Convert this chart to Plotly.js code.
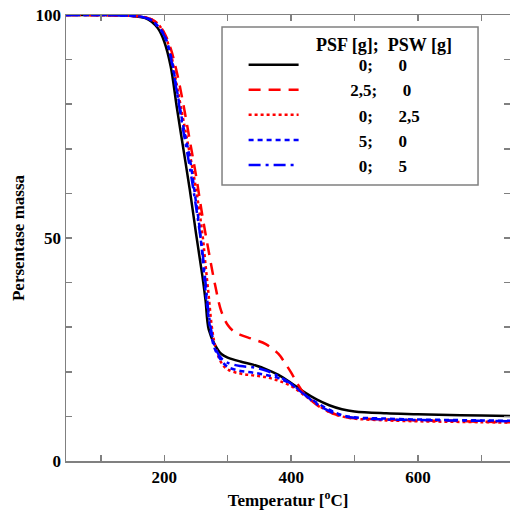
<!DOCTYPE html>
<html><head><meta charset="utf-8">
<script src="https://cdn.plot.ly/plotly-3.0.1.min.js"></script>
<style>html,body{margin:0;padding:0;background:#fff}#chart{width:510px;height:515px}</style>
</head><body><div id="chart"></div>
<script>
// Temperature (°C) and mass percentage for each sample
const T_black = [45,100,150,170,180,190,200,210,220,230,240,250,260,265,270,280,290,300,320,340,360,380,400,420,440,460,480,500,550,600,650,700,745];
const M_black = [100,100,99.8,99.3,98.5,97,94,88.5,79,70,61,51,41.5,36,29.5,26,24,23.2,22.3,21.6,20.6,19.3,17.5,15.5,13.8,12.5,11.6,11.1,10.7,10.5,10.3,10.2,10.1];

const T_red1 = [45,150,170,180,190,200,210,220,230,240,250,260,270,280,290,300,310,320,340,360,380,390,400,410,420,440,460,480,500,550,600,650,700,745];
const M_red1 = [100,99.8,99.5,99,98,96,92.5,87,80,72,64,55,47,39.5,33.5,30.5,29,28.3,27.3,26.2,24,22,19.8,17.3,15.2,12.6,11,10,9.6,9.3,9.1,9,8.8,8.7];

const T_red2 = [45,150,170,180,190,200,210,220,230,240,250,260,265,270,275,280,290,300,320,340,360,380,400,420,440,460,480,500,550,600,650,700,745];
const M_red2 = [100,99.8,99.5,99,98,95.8,91.5,84,76.5,69,61,51,44,37,30,26,22,20.5,19.6,19.2,18.8,18,16.8,14.8,12.8,11,10,9.5,9.1,8.9,8.8,8.7,8.6];

const T_blue1 = [45,150,170,180,190,200,210,220,230,240,250,255,260,265,270,275,280,290,300,320,340,360,380,400,420,440,460,480,500,550,600,650,700,745];
const M_blue1 = [100,99.8,99.4,98.8,97.5,95.5,91,83,75,68,58,53,46,38,32,27.5,25,22.5,21.1,20.2,19.8,19.3,18.6,17.2,15,13.1,11.5,10.3,9.8,9.5,9.3,9.2,9.1,9];

const T_blue2 = [45,150,170,180,190,200,210,220,230,240,250,260,265,270,275,280,290,300,320,340,360,380,400,420,440,460,480,500,550,600,650,700,745];
const M_blue2 = [100,99.8,99.4,98.8,97.4,95.3,90.5,82.5,74,66,57,47,40,33,28.5,25.5,23,22,21.3,21,20.3,19,17.3,15,12.8,11.2,10.2,9.7,9.3,9.2,9.1,9,8.9];

const PSF = ['0', '2,5', '0', '5', '0'];
const PSW = ['0', '0', '2,5', '0', '5'];
const leadPad = [13, 11, 13, 13, 13];
const gapPad = [6, 6, 6, 6, 6];
const nb = n => '\u00a0'.repeat(n);
const names = PSF.map((p, i) => nb(leadPad[i]) + p + ';' + nb(gapPad[i]) + PSW[i]);

const xTickVals = [100,200,300,400,500,600,700];
const xTickText = ['', '200', '', '400', '', '600', ''];
const yTickVals = [0,10,20,30,40,50,60,70,80,90,100];
const yTickText = ['0','','','','','50','','','','','100'];
const bold = s => s ? '<b>' + s + '</b>' : '';

const font = 'Liberation Serif, Times New Roman, serif';
const styles = [
  {color:'#000000', dash:'solid'},
  {color:'#ff0000', dash:'12px,8px'},
  {color:'#ff0000', dash:'3px,3px'},
  {color:'#0000ff', dash:'5px,4px'},
  {color:'#0000ff', dash:'12px,5px,3px,5px'}
];
const xs = [T_black, T_red1, T_red2, T_blue1, T_blue2];
const ys = [M_black, M_red1, M_red2, M_blue1, M_blue2];
const traces = xs.map((x, i) => ({
  type:'scatter', mode:'lines', x:x, y:ys[i], name:names[i],
  line:{color:styles[i].color, dash:styles[i].dash, width:2.5, shape:'spline'}
}));

const axisCommon = {
  showgrid:false, zeroline:false, showline:true, linecolor:'#808080', linewidth:1.5,
  mirror:'ticks', ticks:'inside', ticklen:6, tickcolor:'#808080', tickwidth:1.5,
  tickfont:{family:font, size:17, color:'#000'}, tickmode:'array'
};

const layout = {
  width:510, height:515,
  margin:{l:66, r:0, t:15, b:54},
  paper_bgcolor:'#fff', plot_bgcolor:'#fff',
  font:{family:font, color:'#000'},
  xaxis:Object.assign({}, axisCommon, {
    range:[45,745], tickvals:xTickVals, ticktext:xTickText.map(bold),
    title:{text:'<b>Temperatur [<sup>o</sup>C]</b>', font:{family:font, size:17}, standoff:8}
  }),
  yaxis:Object.assign({}, axisCommon, {
    range:[0,100], tickvals:yTickVals, ticktext:yTickText.map(bold),
    title:{text:'<b>Persentase massa</b>', font:{family:font, size:17}, standoff:6}
  }),
  showlegend:true,
  legend:{
    x:0.40, xanchor:'left', y:0.928, yanchor:'top',
    bgcolor:'rgba(0,0,0,0)', borderwidth:0, itemwidth:50,
    font:{family:font, size:17, color:'#000', weight:'bold'},
    tracegroupgap:0
  },
  shapes:[{type:'rect', xref:'paper', yref:'paper', x0:0.3514, x1:0.928, y0:0.619, y1:0.973,
           line:{color:'#808080', width:1.5}, fillcolor:'rgba(0,0,0,0)'}],
  annotations:[{xref:'paper', yref:'paper', x:0.716, y:0.933, xanchor:'center', yanchor:'middle', showarrow:false,
     text:'<b>PSF [g];\u00a0\u00a0PSW [g]</b>', font:{family:font, size:18, color:'#000'}}]
};

Plotly.newPlot('chart', traces, layout, {displayModeBar:false, staticPlot:true});
</script></body></html>
